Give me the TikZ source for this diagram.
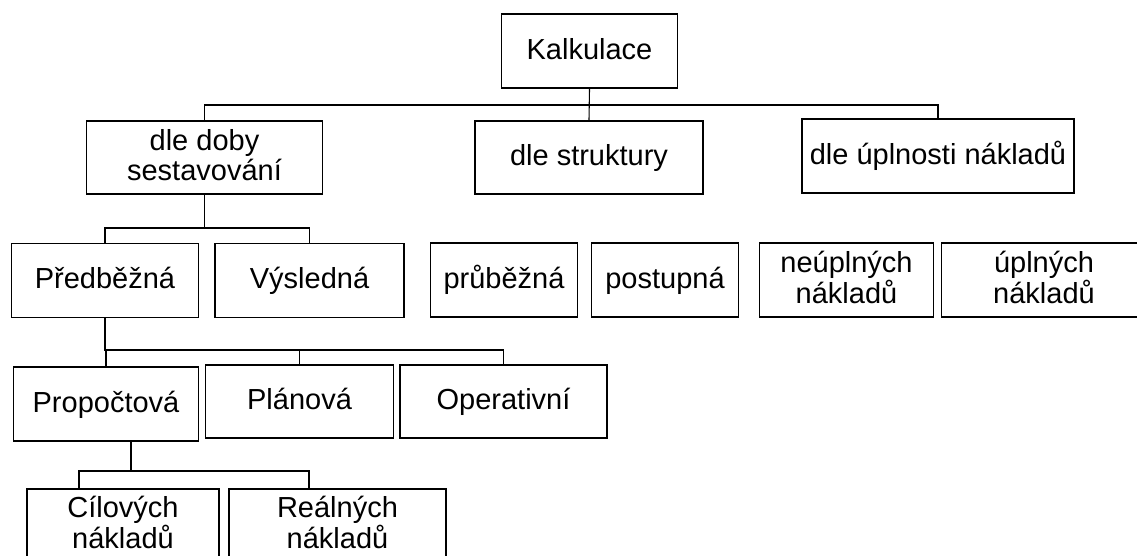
\documentclass[tikz,border=0pt]{standalone}
\usepackage{fontspec}
\setmainfont{Liberation Sans}
% fixed line height so every box puts its baselines at the same offset
\newcommand\lineprop{\rule[-7pt]{0pt}{30pt}}
\begin{document}
\begin{tikzpicture}[x=1pt,y=-1pt,
  box/.style={draw, line width=1.3pt, inner sep=0pt, align=center,
              font=\fontsize{29}{30}\selectfont},
  link/.style={line width=1.1pt},
  heavylink/.style={line width=1.8pt}]
\clip (0,0) rectangle (1137,555);
\fill[white] (0,0) rectangle (1137,555);

% root
\node[box, minimum width=176pt, minimum height=74pt] (kalk) at (589.5,51) {\lineprop Kalkulace};

% first level
\node[box, minimum width=236pt, minimum height=73pt] (doby) at (204.5,157.5) {\lineprop dle doby\\\lineprop sestavování};
\node[box, minimum width=228pt, minimum height=73pt] (strukt) at (589,157.5) {\lineprop dle struktury};
\node[box, minimum width=272pt, minimum height=74pt] (uplnost) at (938,156) {\lineprop dle úplnosti nákladů};

% second level
\node[box, minimum width=187pt, minimum height=74pt] (pred) at (105,280.5) {\lineprop Předběžná};
\node[box, minimum width=189pt, minimum height=74pt] (vysl) at (309.5,280.5) {\lineprop Výsledná};
\node[box, minimum width=147pt, minimum height=74pt] (prub) at (504,280) {\lineprop průběžná};
\node[box, minimum width=147pt, minimum height=74pt] (post) at (665,280) {\lineprop postupná};
\node[box, minimum width=174pt, minimum height=74pt] (neupl) at (846.5,280) {\lineprop neúplných\\\lineprop nákladů};
\node[box, minimum width=205pt, minimum height=74pt] (upl) at (1044,280) {\lineprop úplných\\\lineprop nákladů};

% third level
\node[box, minimum width=185pt, minimum height=74pt] (prop) at (106,404) {\lineprop Propočtová};
\node[box, minimum width=188pt, minimum height=73pt] (plan) at (299.5,401.5) {\lineprop Plánová};
\node[box, minimum width=207pt, minimum height=73pt] (oper) at (503.5,401.5) {\lineprop Operativní};

% fourth level
\node[box, minimum width=192pt, minimum height=72pt] (cil) at (123,525) {\lineprop Cílových\\\lineprop nákladů};
\node[box, minimum width=217pt, minimum height=72pt] (real) at (337.5,525) {\lineprop Reálných\\\lineprop nákladů};

% bus lines
\coordinate (busA) at (0,105);
\coordinate (busB) at (0,228);
\coordinate (busC) at (0,350);
\coordinate (busD) at (0,471);

\draw[link] (kalk.south) -- (strukt.north);
\draw[link] (doby.north) -- (doby.north |- busA) -| (uplnost.north);

\draw[link] (doby.south) -- (doby.south |- busB);
\draw[link] (pred.north) -- (pred.north |- busB) -| (vysl.north);

\draw[heavylink] (pred.south) -- (pred.south |- busC) -| (oper.north);
\draw[link] (plan.north) -- (plan.north |- busC);
\draw[link] (prop.north) -- (prop.north |- busC);

\coordinate (propTap) at ([xshift=25pt]prop.south);
\coordinate (cilTap) at ([xshift=-44pt]cil.north);
\coordinate (realTap) at ([xshift=-28.5pt]real.north);
\draw[heavylink] (propTap) -- (propTap |- busD);
\draw[heavylink] (cilTap) -- (cilTap |- busD) -| (realTap);
\end{tikzpicture}
\end{document}
